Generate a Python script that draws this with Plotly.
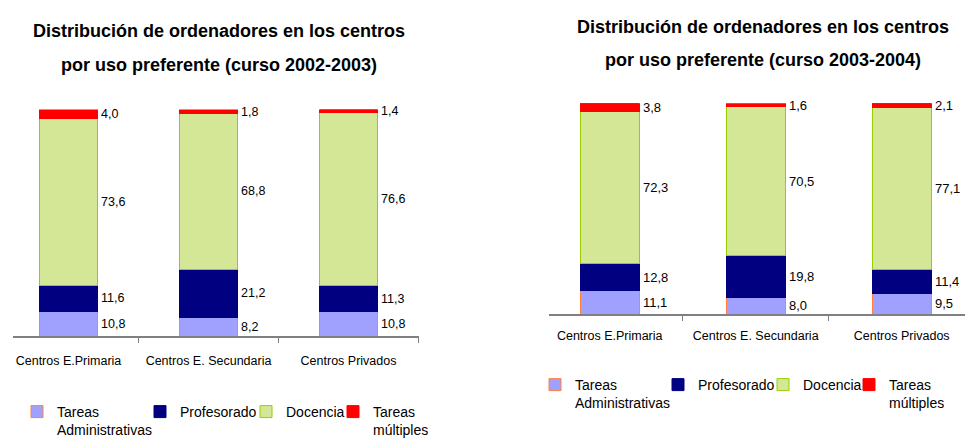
import plotly.graph_objects as go

# Centros y series (porcentaje de ordenadores por uso preferente)
centros = ["Centros E.Primaria", "Centros E. Secundaria", "Centros Privados"]
series = ["Tareas<br>Administrativas", "Profesorado", "Docencia", "Tareas<br>múltiples"]

curso_2002 = {
    "Tareas<br>Administrativas": [10.8, 8.2, 10.8],
    "Profesorado": [11.6, 21.2, 11.3],
    "Docencia": [73.6, 68.8, 76.6],
    "Tareas<br>múltiples": [4.0, 1.8, 1.4],
}
curso_2003 = {
    "Tareas<br>Administrativas": [11.1, 8.0, 9.5],
    "Profesorado": [12.8, 19.8, 11.4],
    "Docencia": [72.3, 70.5, 77.1],
    "Tareas<br>múltiples": [3.8, 1.6, 2.1],
}

titulos = [
    ("Distribución de ordenadores en los centros", "por uso preferente (curso 2002-2003)"),
    ("Distribución de ordenadores en los centros", "por uso preferente (curso 2003-2004)"),
]

relleno = {
    "Tareas<br>Administrativas": "#A0A0FF",
    "Profesorado": "#000080",
    "Docencia": "#D4E796",
    "Tareas<br>múltiples": "#FF0000",
}
borde = {
    "Tareas<br>Administrativas": "#FF8040",
    "Profesorado": "#000080",
    "Docencia": "#9ACD00",
    "Tareas<br>múltiples": "#FF0000",
}

FONT = "Liberation Sans, Arial, sans-serif"
W, H = 965, 441

# Posición (px) de cada entrada de leyenda: inicio del texto y centro de la primera línea
pos_leyenda = [
    [(57, 410), (180, 410), (286, 410), (373, 410)],
    [(575, 383), (698, 383), (803, 383), (889, 383)],
]

fig = go.Figure()
annotations = []
leyendas = {}

paneles = [
    (curso_2002, "x", "y", 0.41, 12.5),
    (curso_2003, "x2", "y2", 0.405, 13),
]

n_leg = 0
for p, (datos, xa, ya, ancho, fsize) in enumerate(paneles):
    acumulado = [0.0] * len(centros)
    for k, s in enumerate(series):
        vals = datos[s]
        n_leg += 1
        leg = "legend" if n_leg == 1 else f"legend{n_leg}"
        tx, ty = pos_leyenda[p][k]
        leyendas[leg] = dict(
            font=dict(family=FONT, size=14, color="#000000"),
            bgcolor="rgba(0,0,0,0)", valign="top", itemwidth=30,
            xanchor="left", yanchor="top",
            x=(tx - 40) / W, y=1 - (ty - 14) / H,
        )
        fig.add_trace(go.Bar(
            x=centros, y=vals, name=s,
            xaxis=xa, yaxis=ya, legend=leg, width=ancho,
            marker=dict(color=relleno[s], line=dict(color=borde[s], width=1)),
            hoverinfo="skip",
        ))
        for i, v in enumerate(vals):
            annotations.append(dict(
                x=i + ancho / 2, y=acumulado[i] + v / 2, xref=xa, yref=ya,
                text=f"{v:.1f}".replace(".", ","), showarrow=False,
                xanchor="left", yanchor="middle", xshift=2,
                font=dict(family=FONT, size=fsize, color="#000000"),
            ))
            acumulado[i] += v

# Títulos de cada panel
for (l1, l2), cx, y1, y2 in [(titulos[0], 218.5, 31, 65), (titulos[1], 763, 27, 60)]:
    for txt, yy in [(l1, y1), (l2, y2)]:
        annotations.append(dict(
            x=cx / W, y=1 - yy / H, xref="paper", yref="paper",
            text=f"<b>{txt}</b>", showarrow=False,
            xanchor="center", yanchor="middle",
            font=dict(family=FONT, size=18, color="#000000"),
        ))

eje_x = dict(
    type="category", categoryorder="array", categoryarray=centros,
    tickson="boundaries", ticks="outside", ticklen=5, tickcolor="#808080",
    showline=True, linecolor="#808080", linewidth=2, showgrid=False,
    zeroline=False, tickangle=0,
    tickfont=dict(family=FONT, size=12.5, color="#000000"),
)

fig.update_layout(
    width=W, height=H, margin=dict(l=0, r=0, t=0, b=0, autoexpand=False),
    paper_bgcolor="#FFFFFF", plot_bgcolor="#FFFFFF",
    barmode="stack", showlegend=True,
    xaxis=dict(eje_x, domain=[12.5 / W, 418.5 / W], range=[-0.4, 2.5],
               anchor="y", ticklabelstandoff=12),
    yaxis=dict(domain=[(H - 336) / H, (H - 109.5) / H], range=[0, 100],
               visible=False, anchor="x"),
    xaxis2=dict(eje_x, domain=[549 / W, 1.0], range=[-0.416, 2.434],
                anchor="y2", ticklabelstandoff=9),
    yaxis2=dict(domain=[(H - 314) / H, (H - 103.3) / H], range=[0, 100],
                visible=False, anchor="x2"),
    annotations=annotations,
    **leyendas,
)

fig.write_html("out.html")
